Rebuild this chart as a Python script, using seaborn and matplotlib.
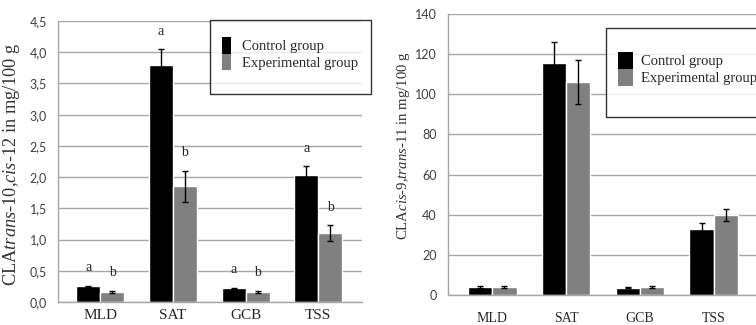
import matplotlib
matplotlib.use("Agg")
import matplotlib.pyplot as plt
from matplotlib.patches import Patch
from matplotlib.path import Path
from matplotlib.ticker import FuncFormatter, MultipleLocator
import pandas as pd
import seaborn as sns

# data
sites = ["MLD", "SAT", "GCB", "TSS"]
groups = ["Control group", "Experimental group"]

# left panel: CLA trans-10,cis-12 (mg/100 g)
t10_control = [0.25, 3.80, 0.22, 2.04]
t10_control_err = [0.01, 0.25, 0.01, 0.13]
t10_exp = [0.16, 1.85, 0.16, 1.10]
t10_exp_err = [0.02, 0.25, 0.02, 0.13]
t10_letters_control = ["a", "a", "a", "a"]
t10_letters_exp = ["b", "b", "b", "b"]

# right panel: CLA cis-9,trans-11 (mg/100 g)
c9_control = [3.8, 115.5, 3.7, 33.0]
c9_control_err = [0.5, 10.5, 0.3, 3.0]
c9_exp = [4.2, 106.0, 3.8, 40.0]
c9_exp_err = [0.5, 11.0, 0.5, 3.0]

colors = ["#000000", "#808080"]
grid_color = "#a6a6a6"
SERIF = "Liberation Serif"
SANS = "Lato"


def make_df(ctrl, exp):
    return pd.DataFrame({
        "site": sites * 2,
        "group": [groups[0]] * 4 + [groups[1]] * 4,
        "value": ctrl + exp,
    })


def padded_box(top, bottom):
    # legend frame with extra room above / below the entries (pixels)
    def style(x0, y0, width, height, mutation_size):
        y0 -= bottom
        y1 = y0 + height + bottom + top
        x1 = x0 + width
        return Path([(x0, y0), (x1, y0), (x1, y1), (x0, y1), (x0, y0)],
                    closed=True)
    return style


def draw_panel(ax, ctrl, ctrl_err, exp, exp_err, ymax, ystep, fmt, ylabel,
               xlim, xpad, xsize, ylabel_size, letters=None):
    df = make_df(ctrl, exp)
    sns.barplot(data=df, x="site", y="value", hue="group", palette=colors,
                width=0.66, errorbar=None, saturation=1, ax=ax, zorder=2)
    if ax.get_legend() is not None:
        ax.get_legend().remove()

    for cont, vals, errs in zip(ax.containers, [ctrl, exp], [ctrl_err, exp_err]):
        xs = [p.get_x() + p.get_width() / 2 for p in cont.patches]
        ax.errorbar(xs, vals, yerr=errs, fmt="none", ecolor="black",
                    elinewidth=1, capsize=2.5, capthick=1, zorder=3)

    if letters is not None:
        for cont, vals, errs, labs in zip(ax.containers, [ctrl, exp],
                                          [ctrl_err, exp_err], letters):
            for p, v, e, lab in zip(cont.patches, vals, errs, labs):
                ax.annotate(lab, (p.get_x() + p.get_width() / 2, v + e),
                            xytext=(0, 13), textcoords="offset points",
                            ha="center", va="center", family=SERIF, fontsize=10)

    ax.set_ylim(0, ymax)
    ax.set_xlim(*xlim)
    ax.yaxis.set_major_locator(MultipleLocator(ystep))
    ax.yaxis.set_major_formatter(FuncFormatter(fmt))
    ax.grid(axis="y", color=grid_color, linewidth=1, zorder=0)
    ax.set_axisbelow(True)
    for side in ["top", "right"]:
        ax.spines[side].set_visible(False)
    for side in ["left", "bottom"]:
        ax.spines[side].set_color(grid_color)
        ax.spines[side].set_linewidth(1)
    ax.tick_params(axis="y", length=4, color=grid_color, labelsize=9, pad=4)
    ax.tick_params(axis="x", length=0, labelsize=xsize, pad=xpad)
    for lab in ax.get_yticklabels():
        lab.set_family(SANS)
        lab.set_color("#404040")
    for lab in ax.get_xticklabels():
        lab.set_family(SERIF)
    ax.set_xlabel("")
    ax.set_ylabel(ylabel, family=SERIF, fontsize=ylabel_size, color="#333333")


sns.set_theme(style="white")
plt.rcParams["mathtext.fontset"] = "custom"
plt.rcParams["mathtext.rm"] = SERIF
plt.rcParams["mathtext.it"] = SERIF + ":italic"

fig = plt.figure(figsize=(7.56, 3.25), dpi=100)
ax1 = fig.add_axes([58 / 756, 23 / 325, 304 / 756, 281 / 325])
ax2 = fig.add_axes([448 / 756, 30 / 325, 310 / 756, 281 / 325])

draw_panel(ax1, t10_control, t10_control_err, t10_exp, t10_exp_err,
           4.5, 0.5, lambda v, _: f"{v:.1f}".replace(".", ","),
           r"CLA$\it{trans}$-10,$\it{cis}$-12 in mg/100 g",
           (-0.58, 3.6), 5, 11, 13.2, letters=[t10_letters_control, t10_letters_exp])
draw_panel(ax2, c9_control, c9_control_err, c9_exp, c9_exp_err,
           140, 20, lambda v, _: f"{v:.0f}",
           r"CLA$\it{cis}$-9,$\it{trans}$-11 in mg/100 g",
           (-0.6, 3.6), 12.5, 10, 10.6)

handles = [Patch(facecolor=c, edgecolor="none") for c in colors]
legend_setup = [
    # axes, anchor, handle length, text pad, extra top, extra bottom
    (ax1, (0.5, 0.988), 0.6, 0.75, 4, 11),
    (ax2, (0.51, 0.909), 1.0, 0.55, 12, 19),
]
for ax, anchor, hlen, tpad, top, bottom in legend_setup:
    leg = ax.legend(handles, groups, loc="upper left", bbox_to_anchor=anchor,
                    frameon=True, fancybox=False, edgecolor="black",
                    prop={"family": SERIF, "size": 10.5},
                    handlelength=hlen, handleheight=1.4, labelspacing=0,
                    handletextpad=tpad, borderpad=0.85, borderaxespad=0)
    leg.get_frame().set_linewidth(1)
    leg.get_frame().set_boxstyle(padded_box(top, bottom))

ax1.yaxis.set_label_coords(-0.118, 0.49)
ax2.yaxis.set_label_coords(-0.116, 0.53)

fig.savefig("out.png", dpi=100)
